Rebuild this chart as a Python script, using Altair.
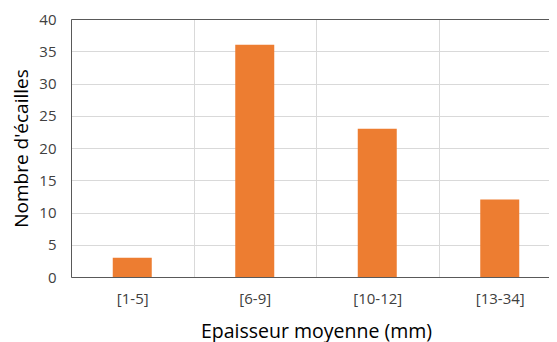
import altair as alt
import pandas as pd

categories = ["[1-5]", "[6-9]", "[10-12]", "[13-34]"]
counts = [3, 36, 23, 12]

df = pd.DataFrame({"cat": categories, "n": counts})

font = "Open Sans"
xscale = alt.Scale(paddingInner=0, paddingOuter=0, range=[0, 490])

bars = alt.Chart(df).mark_bar(size=39, color="#ED7D31").encode(
    x=alt.X("cat:N", sort=categories, title="Epaisseur moyenne (mm)",
            scale=xscale,
            axis=alt.Axis(labelAngle=0, tickBand="extent", ticks=False, grid=True,
                          gridColor="#d9d9d9", domainColor="#595959",
                          labelFontSize=15, labelColor="#404040", labelPadding=14,
                          titleFontSize=19.5, titleFontWeight="normal", titleColor="#000000",
                          titlePadding=16, labelFont=font, titleFont=font,
                          titleAnchor="middle", titleX=245)),
    y=alt.Y("n:Q", title="Nombre d'écailles",
            scale=alt.Scale(domain=[0, 40]),
            axis=alt.Axis(values=[0, 5, 10, 15, 20, 25, 30, 35, 40], ticks=False,
                          labelOverlap=False,
                          gridColor="#d9d9d9",
                          domainColor="#595959",
                          labelFontSize=15, labelColor="#404040", labelPadding=15,
                          titleFontSize=19, titleFontWeight="normal", titleColor="#000000",
                          titlePadding=7, labelFont=font, titleFont=font)),
)

top = alt.Chart(df).mark_bar(opacity=0).encode(
    x=alt.X("cat:N", sort=categories, scale=xscale,
            axis=alt.Axis(orient="top", labels=False, ticks=False, grid=False,
                          title=None, domainColor="#595959")),
)

chart = alt.layer(bars, top).resolve_axis(x="independent").properties(
    width=478, height=258,
    autosize=alt.AutoSizeParams(type="none"),
    padding={"left": 63, "top": 11, "right": 0, "bottom": 68},
).configure_view(stroke=None)

chart.save("out.html", embed_options={"renderer": "svg", "actions": False})
